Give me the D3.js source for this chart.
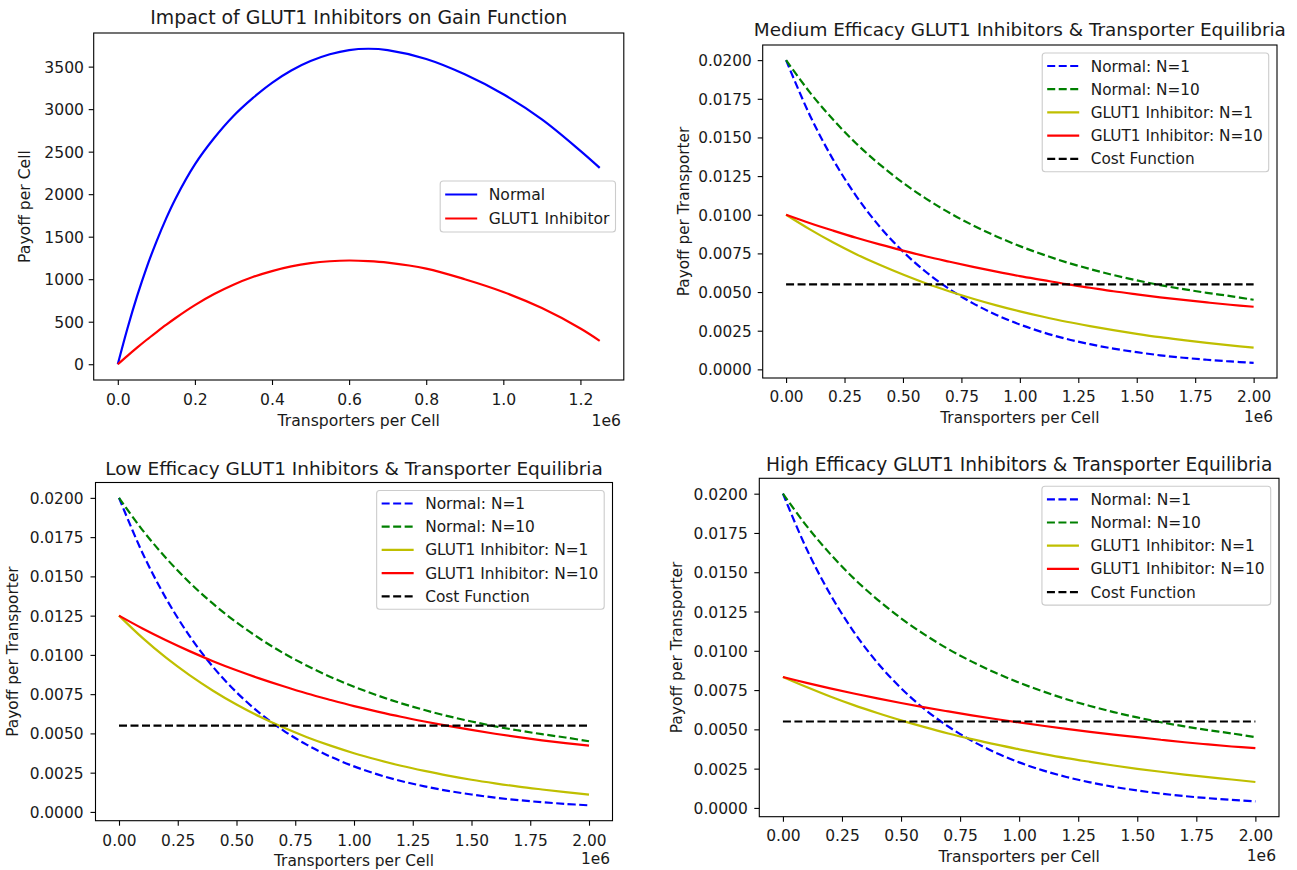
<!DOCTYPE html>
<html><head><meta charset="utf-8">
<script src="https://cdn.jsdelivr.net/npm/d3@7"></script>
<style>html,body{margin:0;padding:0;background:#fff;} svg{display:block;}</style>
</head><body>
<svg id="chart" width="1297" height="870"></svg>
<script>
// ---------------- DATA ----------------
// Panel 1: gain per cell vs transporters per cell
const gainX = [0, 25000, 50000, 75000, 100000, 125000, 150000, 200000, 250000, 300000, 350000, 400000, 450000, 500000, 550000, 600000, 650000, 700000, 800000, 900000, 1000000, 1100000, 1200000, 1250000];
const gainNormal = [0, 420, 800, 1140, 1440, 1710, 1950, 2350, 2660, 2920, 3130, 3310, 3455, 3565, 3645, 3695, 3710, 3695, 3590, 3410, 3175, 2880, 2510, 2310];
const gainInhibitor = [0, 99, 195, 288, 376, 462, 544, 695, 825, 935, 1025, 1095, 1150, 1188, 1211, 1220, 1213, 1195, 1125, 1000, 850, 660, 420, 275];

// Panels 2-4: payoff per transporter
const perX = [0, 100000, 200000, 300000, 400000, 500000, 600000, 700000, 800000, 900000, 1000000, 1100000, 1200000, 1300000, 1400000, 1500000, 1600000, 1700000, 1800000, 1900000, 2000000];
const normalN1 = [0.02000, 0.01649, 0.01360, 0.01121, 0.00924, 0.00762, 0.00628, 0.00518, 0.00427, 0.00352, 0.00290, 0.00239, 0.00197, 0.00163, 0.00134, 0.00111, 0.00091, 0.00075, 0.00062, 0.00051, 0.00042];
const normalN10 = [0.02000, 0.01795, 0.01617, 0.01461, 0.01326, 0.01207, 0.01103, 0.01011, 0.00931, 0.00860, 0.00797, 0.00742, 0.00692, 0.00649, 0.00610, 0.00576, 0.00545, 0.00519, 0.00495, 0.00474, 0.00450];
const medInhN1 = [0.01000, 0.00907, 0.00822, 0.00745, 0.00676, 0.00613, 0.00555, 0.00504, 0.00457, 0.00414, 0.00375, 0.00340, 0.00308, 0.00280, 0.00254, 0.00230, 0.00208, 0.00189, 0.00171, 0.00155, 0.00141];
const medInhN10 = [0.01000, 0.00947, 0.00898, 0.00851, 0.00808, 0.00768, 0.00730, 0.00696, 0.00663, 0.00632, 0.00603, 0.00577, 0.00551, 0.00528, 0.00505, 0.00485, 0.00466, 0.00449, 0.00433, 0.00418, 0.00405];
const lowInhN1 = [0.01250, 0.01108, 0.00982, 0.00871, 0.00772, 0.00684, 0.00606, 0.00537, 0.00476, 0.00422, 0.00374, 0.00332, 0.00294, 0.00261, 0.00231, 0.00205, 0.00182, 0.00161, 0.00143, 0.00126, 0.00110];
const lowInhN10 = [0.01250, 0.01168, 0.01093, 0.01024, 0.00960, 0.00902, 0.00849, 0.00800, 0.00754, 0.00713, 0.00674, 0.00639, 0.00606, 0.00576, 0.00548, 0.00522, 0.00498, 0.00476, 0.00456, 0.00438, 0.00422];
const highInhN1 = [0.00833, 0.00769, 0.00709, 0.00654, 0.00604, 0.00557, 0.00514, 0.00474, 0.00438, 0.00404, 0.00373, 0.00344, 0.00317, 0.00293, 0.00270, 0.00249, 0.00230, 0.00212, 0.00196, 0.00181, 0.00165];
const highInhN10 = [0.00833, 0.00796, 0.00761, 0.00728, 0.00697, 0.00668, 0.00640, 0.00614, 0.00589, 0.00566, 0.00544, 0.00523, 0.00503, 0.00484, 0.00466, 0.00450, 0.00434, 0.00418, 0.00404, 0.00391, 0.00380];
const costX = [0, 2000000];
const costY = [0.0055, 0.0055];

// Ticks
const gainXTicks = [0, 200000, 400000, 600000, 800000, 1000000, 1200000];
const gainXTickLabels = ["0.0", "0.2", "0.4", "0.6", "0.8", "1.0", "1.2"];
const gainYTicks = [0, 500, 1000, 1500, 2000, 2500, 3000, 3500];
const gainYTickLabels = ["0", "500", "1000", "1500", "2000", "2500", "3000", "3500"];
const perXTicks = [0, 250000, 500000, 750000, 1000000, 1250000, 1500000, 1750000, 2000000];
const perXTickLabels = ["0.00", "0.25", "0.50", "0.75", "1.00", "1.25", "1.50", "1.75", "2.00"];
const perYTicks = [0, 0.0025, 0.005, 0.0075, 0.01, 0.0125, 0.015, 0.0175, 0.02];
const perYTickLabels = ["0.0000", "0.0025", "0.0050", "0.0075", "0.0100", "0.0125", "0.0150", "0.0175", "0.0200"];

// Text
const titles = ["Impact of GLUT1 Inhibitors on Gain Function",
  "Medium Efficacy GLUT1 Inhibitors & Transporter Equilibria",
  "Low Efficacy GLUT1 Inhibitors & Transporter Equilibria",
  "High Efficacy GLUT1 Inhibitors & Transporter Equilibria"];
const xLabel = "Transporters per Cell";
const gainYLabel = "Payoff per Cell";
const perYLabel = "Payoff per Transporter";
const offsetText = "1e6";
const gainLegend = ["Normal", "GLUT1 Inhibitor"];
const perLegend = ["Normal: N=1", "Normal: N=10", "GLUT1 Inhibitor: N=1", "GLUT1 Inhibitor: N=10", "Cost Function"];

// ---------------- STYLE / LAYOUT ----------------
const FONT = "'DejaVu Sans', 'Liberation Sans', sans-serif";
const TXT = "#1a1a1a";
const LW = 2.2;
const DASH = "8,3.5";
const C = {blue: "#0000ff", green: "#008000", yellow: "#bfbf00", red: "#ff0000", black: "#000000"};

const svg = d3.select("#chart");

function padExtent(vals) {
  const lo = d3.min(vals), hi = d3.max(vals), m = (hi - lo) * 0.05;
  return [lo - m, hi + m];
}

function drawPanel(p) {
  const FS = p.fs, FS_TITLE = p.fsTitle;
  const allX = p.series.flatMap(s => s.xs);
  const allY = p.series.flatMap(s => s.ys);
  const x = d3.scaleLinear().domain(padExtent(allX)).range([p.L, p.R]);
  const y = d3.scaleLinear().domain(padExtent(allY)).range([p.B, p.T]);
  const g = svg.append("g");

  const line = d3.line().x(d => x(d[0])).y(d => y(d[1])).curve(d3.curveCatmullRom.alpha(0.5));
  p.series.forEach(s => {
    g.append("path")
      .datum(s.xs.map((xv, i) => [xv, s.ys[i]]))
      .attr("d", line)
      .attr("fill", "none")
      .attr("stroke", s.color)
      .attr("stroke-width", LW)
      .attr("stroke-dasharray", s.dash ? DASH : null);
  });

  // x axis
  const gx = g.append("g").attr("transform", `translate(0,${p.B})`)
    .call(d3.axisBottom(x).tickValues(p.xTicks).tickFormat((d, i) => p.xTickLabels[i]).tickSize(5).tickSizeOuter(0));
  gx.select(".domain").remove();
  gx.selectAll(".tick line").attr("stroke", "#000").attr("stroke-width", 1.1);
  gx.selectAll(".tick text").attr("y", p.xTickY - p.B).attr("dy", "0.36em")
    .attr("font-size", FS).attr("font-family", FONT).attr("fill", TXT);

  // y axis
  const gy = g.append("g").attr("transform", `translate(${p.L},0)`)
    .call(d3.axisLeft(y).tickValues(p.yTicks).tickFormat((d, i) => p.yTickLabels[i]).tickSize(5).tickSizeOuter(0));
  gy.select(".domain").remove();
  gy.selectAll(".tick line").attr("stroke", "#000").attr("stroke-width", 1.1);
  gy.selectAll(".tick text").attr("x", -p.yTickGap).attr("dy", "0.36em")
    .attr("font-size", FS).attr("font-family", FONT).attr("fill", TXT);

  // spines
  g.append("rect").attr("x", p.L).attr("y", p.T).attr("width", p.R - p.L).attr("height", p.B - p.T)
    .attr("fill", "none").attr("stroke", "#000").attr("stroke-width", 1.1);

  // title & labels
  const txt = (tx, ty, s, size, anchor) => g.append("text").attr("x", tx).attr("y", ty)
    .attr("dy", "0.36em").attr("text-anchor", anchor || "middle")
    .attr("font-size", size).attr("font-family", FONT).attr("fill", TXT).text(s);
  txt((p.L + p.R) / 2, p.titleY, p.title, FS_TITLE);
  txt((p.L + p.R) / 2, p.xLabelY, xLabel, FS);
  txt(p.offX, p.offY, offsetText, FS, "end");
  g.append("text").attr("transform", `translate(${p.yLabelX},${(p.T + p.B) / 2}) rotate(-90)`)
    .attr("dy", "0.36em").attr("text-anchor", "middle")
    .attr("font-size", FS).attr("font-family", FONT).attr("fill", TXT).text(p.yLabel);

  // legend
  const lg = g.append("g");
  const rowH = p.legendRow, padT = p.legendPad;
  const n = p.series.length;
  const tmp = lg.append("g");
  let maxW = 0;
  p.series.forEach(s => {
    const t = tmp.append("text").attr("font-size", FS).attr("font-family", FONT).text(s.label);
    maxW = Math.max(maxW, t.node().getComputedTextLength());
  });
  tmp.remove();
  const padL = 5, lineLen = 32, gap = 11.5;
  const boxW = padL + lineLen + gap + maxW + 6;
  const boxH = padT * 2 + (n - 1) * rowH;
  const boxR = p.R - 8.3;
  const boxL = boxR - boxW;
  const boxT = p.legendCenter ? (p.T + p.B) / 2 - boxH / 2 : p.T + 8;
  lg.append("rect").attr("x", boxL).attr("y", boxT).attr("width", boxW).attr("height", boxH)
    .attr("rx", 3).attr("fill", "#fff").attr("fill-opacity", 0.8)
    .attr("stroke", "#cccccc").attr("stroke-width", 1.1);
  p.series.forEach((s, i) => {
    const cy = boxT + padT + i * rowH;
    lg.append("line").attr("x1", boxL + padL).attr("x2", boxL + padL + lineLen).attr("y1", cy).attr("y2", cy)
      .attr("stroke", s.color).attr("stroke-width", LW).attr("stroke-dasharray", s.dash ? DASH : null);
    lg.append("text").attr("x", boxL + padL + lineLen + gap).attr("y", cy).attr("dy", "0.36em")
      .attr("font-size", FS).attr("font-family", FONT).attr("fill", TXT).text(s.label);
  });
}

function perSeries(inhN1, inhN10) {
  return [
    {label: perLegend[0], xs: perX, ys: normalN1, color: C.blue, dash: true},
    {label: perLegend[1], xs: perX, ys: normalN10, color: C.green, dash: true},
    {label: perLegend[2], xs: perX, ys: inhN1, color: C.yellow, dash: false},
    {label: perLegend[3], xs: perX, ys: inhN10, color: C.red, dash: false},
    {label: perLegend[4], xs: costX, ys: costY, color: C.black, dash: true}
  ];
}

const perCommon = {xTicks: perXTicks, xTickLabels: perXTickLabels, yTicks: perYTicks, yTickLabels: perYTickLabels,
  yLabel: perYLabel, legendRow: 23.2, legendPad: 13};

// Top-left
drawPanel({L: 93.7, R: 623.8, T: 33, B: 380, titleY: 17.3, xTickY: 399, xLabelY: 420.7, offX: 621, offY: 420.7,
  yLabelX: 24.8, yTickGap: 9.7, title: titles[0], fs: 15.6, fsTitle: 18.9,
  xTicks: gainXTicks, xTickLabels: gainXTickLabels, yTicks: gainYTicks, yTickLabels: gainYTickLabels,
  yLabel: gainYLabel, legendRow: 24, legendPad: 13.5, legendCenter: true,
  series: [
    {label: gainLegend[0], xs: gainX, ys: gainNormal, color: C.blue, dash: false},
    {label: gainLegend[1], xs: gainX, ys: gainInhibitor, color: C.red, dash: false}
  ]});

// Top-right: medium efficacy
drawPanel(Object.assign({}, perCommon, {L: 762.7, R: 1277, T: 45, B: 378, titleY: 29, xTickY: 396.7, xLabelY: 417.3,
  offX: 1273, offY: 416, yLabelX: 683, yTickGap: 11, fs: 15.3, fsTitle: 18.4,
  title: titles[1], series: perSeries(medInhN1, medInhN10)}));

// Bottom-left: low efficacy
drawPanel(Object.assign({}, perCommon, {L: 95.5, R: 612.5, T: 482.5, B: 820.7, titleY: 468.3, xTickY: 840, xLabelY: 860,
  offX: 610, offY: 858.3, yLabelX: 12.4, yTickGap: 12, fs: 15.4, fsTitle: 18.5,
  title: titles[2], series: perSeries(lowInhN1, lowInhN10)}));

// Bottom-right: high efficacy
drawPanel(Object.assign({}, perCommon, {L: 759.3, R: 1279, T: 478.3, B: 816.7, titleY: 464.3, xTickY: 835, xLabelY: 856.7,
  offX: 1276, offY: 855.7, yLabelX: 676.9, yTickGap: 11.5, fs: 15.5, fsTitle: 18.6,
  title: titles[3], series: perSeries(highInhN1, highInhN10)}));
</script>
</body></html>
